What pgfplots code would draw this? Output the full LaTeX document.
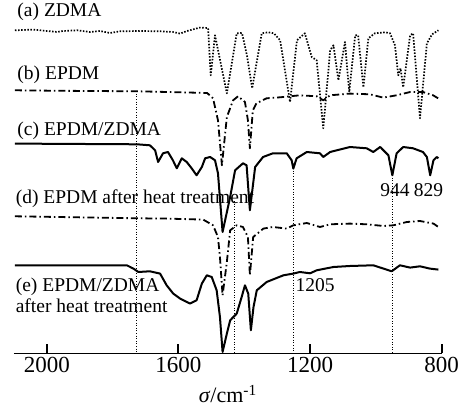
\documentclass[border=0pt]{standalone}
\usepackage{fontspec}
\setmainfont{Liberation Serif}
\usepackage{pgfplots}
\pgfplotsset{compat=1.18}

\begin{document}
\begin{tikzpicture}
\path[use as bounding box] (-14pt,-58.7pt) rectangle (450pt,353.3pt);
\begin{axis}[
  scale only axis, width=427.7pt, height=353pt,
  xmin=800, xmax=2100, ymin=0, ymax=353,
  x dir=reverse,
  axis line style={draw=none},
  ytick=\empty, xtick pos=left,
  xtick={800,1200,1600,2000},
  tick align=inside, major tick length=0pt,
  /pgf/number format/assume math mode=true,
  /pgf/number format/1000 sep={},
  tick label style={font=\fontsize{23}{25}\selectfont},
  xlabel={\textit{σ}/cm\textsuperscript{-1}},
  xlabel style={font=\fontsize{22}{24}\selectfont, yshift=-6pt},
  clip=false,
  every axis plot/.append style={black, line join=round},
]
% axis line and tick marks
\addplot[line width=1.4pt] coordinates {(2100,0) (800,0)};
\addplot[line width=2pt] coordinates {(2000,0) (2000,9)};
\addplot[line width=2pt] coordinates {(1600,0) (1600,9)};
\addplot[line width=2pt] coordinates {(1200,0) (1200,9)};
\addplot[line width=2pt] coordinates {(800,0) (800,9)};
% (a) ZDMA
\addplot[line width=1.7pt, dash pattern=on 1.5pt off 1.6pt] coordinates {
(2097,323) (2042,323.7) (1969,321.3) (1951,322.3) (1908,323) (1869,321.3)
(1839,322.3) (1808,320.3) (1778,322) (1717,322.3) (1656,322) (1617,321.3)
(1595,319.7) (1574,322.3) (1535,325.7) (1510,325.3) (1502,278) (1489,318)
(1453,260) (1423,320) (1407,320.3) (1392,298) (1376,265) (1347,320)
(1328,321) (1310,320) (1291,313) (1261,251.3) (1240,313) (1216,320)
(1195,296.3) (1180,293) (1160,225) (1139,303) (1129,308) (1114,273)
(1094,311.3) (1081,261.3) (1063,318) (1054,318) (1038,266) (1023,315)
(1003,320) (972,321) (957,320) (942,308) (932,278) (925,285) (917,266)
(896,318) (887,320) (866,235) (845,310) (829,319) (810,323)};
% (b) EPDM
\addplot[line width=1.8pt, dash pattern=on 7pt off 3pt on 1.5pt off 3pt] coordinates {
(2097,263) (1960,262.5) (1726,262) (1595,261) (1513,260.3) (1495,255)
(1480,233) (1468,188) (1453,236.3) (1434,253) (1419,257) (1398,251.3)
(1389,233) (1383,205) (1374,243) (1363,250) (1332,255) (1291,256)
(1261,257) (1231,258) (1180,257) (1160,253) (1139,258) (1079,259.7)
(1018,259) (978,255.7) (937,258) (896,261.3) (857,261.3) (826,258) (811,255)};
% (c) EPDM/ZDMA
\addplot[line width=2pt] coordinates {
(2097,209.7) (1726,209) (1687,208) (1671,203) (1662,191.3) (1647,200)
(1632,201.3) (1617,193) (1605,185) (1590,195) (1575,191.3) (1560,185)
(1545,178) (1529,186.3) (1519,195) (1504,196.3) (1489,193) (1480,180)
(1466,121.3) (1443,156.3) (1428,183) (1404,190) (1393,188) (1383,143)
(1367,186.3) (1343,196.3) (1313,200) (1271,200) (1256,193) (1251,184.7)
(1241,195) (1210,201.3) (1170,200) (1160,196.3) (1139,201.3) (1079,206.3)
(1028,205) (1008,201.3) (987,206.3) (962,198) (950,178) (937,200)
(917,206.3) (887,205) (857,201.3) (845,196.3) (835,178) (825,193)
(815,196.3) (810,195)};
% (d) EPDM after heat treatment
\addplot[line width=1.8pt, dash pattern=on 7pt off 3pt on 1.5pt off 3pt] coordinates {
(2097,137) (1726,135) (1636,134.7) (1525,133.7) (1495,128) (1480,116.3)
(1474,96.3) (1466,58) (1453,91.3) (1443,123) (1423,128) (1404,126.3)
(1389,116.3) (1383,78) (1373,116.3) (1342,124.7) (1313,126.3) (1271,124.7)
(1251,128) (1210,130.3) (1170,126.3) (1139,129) (1079,129.7) (1028,129)
(977,127.3) (947,128) (906,131.3) (866,132.3) (825,129.7) (810,126.3)};
% (e) EPDM/ZDMA after heat treatment
\addplot[line width=2pt] coordinates {
(2097,88) (1757,88) (1737,84.7) (1722,81.3) (1687,82) (1656,79.7)
(1636,68) (1616,59.7) (1595,54.7) (1565,49.7) (1545,53) (1529,69.7)
(1514,78) (1499,76.3) (1484,63) (1474,36.3) (1466,1.3) (1453,19.7)
(1443,33) (1423,39.7) (1408,56.3) (1398,68) (1388,59.7) (1380,23)
(1372,46.3) (1362,63) (1332,71.3) (1281,78) (1251,79.7) (1231,81.3)
(1200,80) (1180,83) (1129,86.3) (1079,87.3) (1008,88) (977,84.7)
(952,82) (927,88) (896,85.7) (866,87) (836,84.7) (810,83.7)};
% marker lines
\addplot[line width=0.9pt, dash pattern=on 1pt off 1.6pt] coordinates {(1727,262) (1727,0)};
\addplot[line width=0.9pt, dash pattern=on 1pt off 1.6pt] coordinates {(1430,152) (1430,0)};
\addplot[line width=0.9pt, dash pattern=on 1pt off 1.6pt] coordinates {(1251,185) (1251,0)};
\addplot[line width=0.9pt, dash pattern=on 1pt off 1.6pt] coordinates {(950,178) (950,0)};
% labels
\begin{scope}[every node/.style={font=\fontsize{19.5}{21}\selectfont, inner sep=0pt}]
\node[anchor=west] at (axis cs:2090,341) {(a) ZDMA};
\node[anchor=west] at (axis cs:2090,278) {(b) EPDM};
\node[anchor=west] at (axis cs:2090,222) {(c) EPDM/ZDMA};
\node[anchor=west] at (axis cs:2095,155) {(d) EPDM after heat treatment};
\node[anchor=west, align=left] at (axis cs:2095,58) {(e) EPDM/ZDMA\\after heat treatment};
\node at (axis cs:942,163) {944};
\node at (axis cs:840,163) {829};
\node at (axis cs:1185,68) {1205};
\end{scope}
\end{axis}
\end{tikzpicture}
\end{document}
